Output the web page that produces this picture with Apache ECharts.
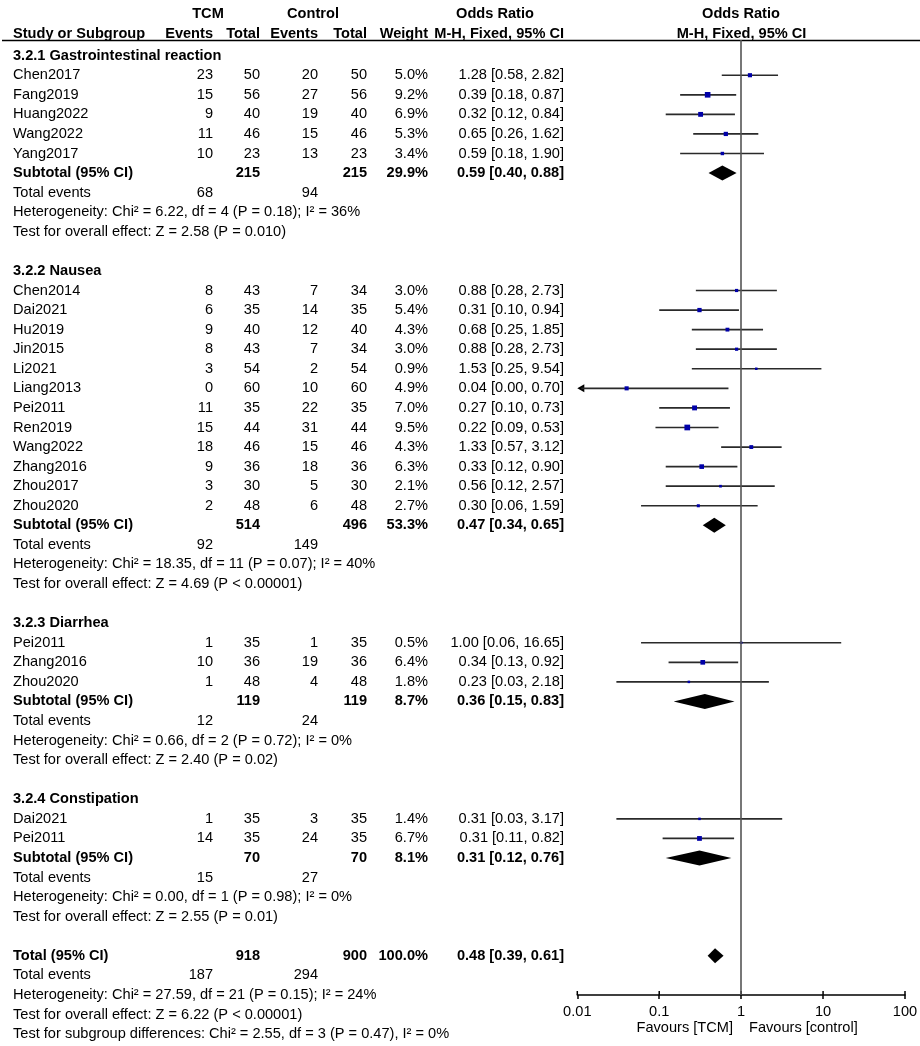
<!DOCTYPE html>
<html>
<head>
<meta charset="utf-8">
<script src="https://cdn.jsdelivr.net/npm/echarts@6/dist/echarts.min.js"></script>
<style>
html,body{margin:0;padding:0;background:#fff;}
#chart{width:920px;height:1046px;}
</style>
</head>
<body>
<div id="chart"></div>
<script>
// ---------- DATA ----------
const groupNames = ['3.2.1 Gastrointestinal reaction', '3.2.2 Nausea', '3.2.3 Diarrhea', '3.2.4 Constipation'];
// [study, TCM events, TCM total, Control events, Control total, weight %, OR, lower, upper]
const gastroStudies = [
  ['Chen2017', 23, 50, 20, 50, 5.0, 1.28, 0.58, 2.82],
  ['Fang2019', 15, 56, 27, 56, 9.2, 0.39, 0.18, 0.87],
  ['Huang2022', 9, 40, 19, 40, 6.9, 0.32, 0.12, 0.84],
  ['Wang2022', 11, 46, 15, 46, 5.3, 0.65, 0.26, 1.62],
  ['Yang2017', 10, 23, 13, 23, 3.4, 0.59, 0.18, 1.90]
];
const nauseaStudies = [
  ['Chen2014', 8, 43, 7, 34, 3.0, 0.88, 0.28, 2.73],
  ['Dai2021', 6, 35, 14, 35, 5.4, 0.31, 0.10, 0.94],
  ['Hu2019', 9, 40, 12, 40, 4.3, 0.68, 0.25, 1.85],
  ['Jin2015', 8, 43, 7, 34, 3.0, 0.88, 0.28, 2.73],
  ['Li2021', 3, 54, 2, 54, 0.9, 1.53, 0.25, 9.54],
  ['Liang2013', 0, 60, 10, 60, 4.9, 0.04, 0.00, 0.70],
  ['Pei2011', 11, 35, 22, 35, 7.0, 0.27, 0.10, 0.73],
  ['Ren2019', 15, 44, 31, 44, 9.5, 0.22, 0.09, 0.53],
  ['Wang2022', 18, 46, 15, 46, 4.3, 1.33, 0.57, 3.12],
  ['Zhang2016', 9, 36, 18, 36, 6.3, 0.33, 0.12, 0.90],
  ['Zhou2017', 3, 30, 5, 30, 2.1, 0.56, 0.12, 2.57],
  ['Zhou2020', 2, 48, 6, 48, 2.7, 0.30, 0.06, 1.59]
];
const diarrheaStudies = [
  ['Pei2011', 1, 35, 1, 35, 0.5, 1.00, 0.06, 16.65],
  ['Zhang2016', 10, 36, 19, 36, 6.4, 0.34, 0.13, 0.92],
  ['Zhou2020', 1, 48, 4, 48, 1.8, 0.23, 0.03, 2.18]
];
const constipationStudies = [
  ['Dai2021', 1, 35, 3, 35, 1.4, 0.31, 0.03, 3.17],
  ['Pei2011', 14, 35, 24, 35, 6.7, 0.31, 0.11, 0.82]
];
// [TCM total, Control total, weight %, OR, lower, upper]
const subtotals = [
  [215, 215, 29.9, 0.59, 0.40, 0.88],
  [514, 496, 53.3, 0.47, 0.34, 0.65],
  [119, 119, 8.7, 0.36, 0.15, 0.83],
  [70, 70, 8.1, 0.31, 0.12, 0.76]
];
const subtotalEvents = [[68, 94], [92, 149], [12, 24], [15, 27]];
const heterogeneityTexts = [
  'Heterogeneity: Chi² = 6.22, df = 4 (P = 0.18); I² = 36%',
  'Heterogeneity: Chi² = 18.35, df = 11 (P = 0.07); I² = 40%',
  'Heterogeneity: Chi² = 0.66, df = 2 (P = 0.72); I² = 0%',
  'Heterogeneity: Chi² = 0.00, df = 1 (P = 0.98); I² = 0%'
];
const effectTexts = [
  'Test for overall effect: Z = 2.58 (P = 0.010)',
  'Test for overall effect: Z = 4.69 (P < 0.00001)',
  'Test for overall effect: Z = 2.40 (P = 0.02)',
  'Test for overall effect: Z = 2.55 (P = 0.01)'
];
const overallTotal = [918, 900, 100.0, 0.48, 0.39, 0.61];
const overallEvents = [187, 294];
const overallHeterogeneity = 'Heterogeneity: Chi² = 27.59, df = 21 (P = 0.15); I² = 24%';
const overallEffect = 'Test for overall effect: Z = 6.22 (P < 0.00001)';
const subgroupDifferences = 'Test for subgroup differences: Chi² = 2.55, df = 3 (P = 0.47), I² = 0%';
const xTickValues = [0.01, 0.1, 1, 10, 100];
const xTickLabels = ['0.01', '0.1', '1', '10', '100'];

// ---------- LAYOUT ----------
const FONT = 'Liberation Sans, Arial, Helvetica, sans-serif';
const FS = 14.6;
const Y_MIN = -0.8, Y_MAX = 48;
const colX = { label: 13, e1: 213, n1: 260, e2: 318, n2: 367, w: 428, or: 564 };
const fmtOR = (o, l, h) => o.toFixed(2) + ' [' + l.toFixed(2) + ', ' + h.toFixed(2) + ']';

const tableRows = [];
const studyPts = [];
const diamonds = [];
let r = 0;
[gastroStudies, nauseaStudies, diarrheaStudies, constipationStudies].forEach((studies, gi) => {
  tableRows.push({ row: r, cells: [{ x: colX.label, t: groupNames[gi], b: true, a: 'left' }] });
  r++;
  studies.forEach(s => {
    tableRows.push({ row: r, cells: [
      { x: colX.label, t: s[0], a: 'left' },
      { x: colX.e1, t: String(s[1]) }, { x: colX.n1, t: String(s[2]) },
      { x: colX.e2, t: String(s[3]) }, { x: colX.n2, t: String(s[4]) },
      { x: colX.w, t: s[5].toFixed(1) + '%' }, { x: colX.or, t: fmtOR(s[6], s[7], s[8]) }
    ] });
    studyPts.push([s[6], s[7], s[8], r, s[5]]);
    r++;
  });
  const st = subtotals[gi];
  tableRows.push({ row: r, cells: [
    { x: colX.label, t: 'Subtotal (95% CI)', a: 'left', b: true },
    { x: colX.n1, t: String(st[0]), b: true }, { x: colX.n2, t: String(st[1]), b: true },
    { x: colX.w, t: st[2].toFixed(1) + '%', b: true }, { x: colX.or, t: fmtOR(st[3], st[4], st[5]), b: true }
  ] });
  diamonds.push([st[3], st[4], st[5], r]);
  r++;
  tableRows.push({ row: r, cells: [
    { x: colX.label, t: 'Total events', a: 'left' },
    { x: colX.e1, t: String(subtotalEvents[gi][0]) }, { x: colX.e2, t: String(subtotalEvents[gi][1]) }
  ] });
  r++;
  tableRows.push({ row: r, cells: [{ x: colX.label, t: heterogeneityTexts[gi], a: 'left' }] }); r++;
  tableRows.push({ row: r, cells: [{ x: colX.label, t: effectTexts[gi], a: 'left' }] }); r++;
  r++; // blank
});
tableRows.push({ row: r, cells: [
  { x: colX.label, t: 'Total (95% CI)', a: 'left', b: true },
  { x: colX.n1, t: String(overallTotal[0]), b: true }, { x: colX.n2, t: String(overallTotal[1]), b: true },
  { x: colX.w, t: overallTotal[2].toFixed(1) + '%', b: true },
  { x: colX.or, t: fmtOR(overallTotal[3], overallTotal[4], overallTotal[5]), b: true }
] });
diamonds.push([overallTotal[3], overallTotal[4], overallTotal[5], r]);
r++;
tableRows.push({ row: r, cells: [
  { x: colX.label, t: 'Total events', a: 'left' },
  { x: colX.e1, t: String(overallEvents[0]) }, { x: colX.e2, t: String(overallEvents[1]) }
] });
r++;
tableRows.push({ row: r, cells: [{ x: colX.label, t: overallHeterogeneity, a: 'left' }] }); r++;
tableRows.push({ row: r, cells: [{ x: colX.label, t: overallEffect, a: 'left' }] }); r++;
tableRows.push({ row: r, cells: [{ x: colX.label, t: subgroupDifferences, a: 'left' }] }); r++;

function txt(x, y, t, align, bold) {
  return { type: 'text', x: x, y: y, silent: true, style: {
    text: t, x: 0, y: 0, fill: '#000', align: align || 'right', verticalAlign: 'middle',
    font: (bold ? 'bold ' : '') + FS + 'px ' + FONT } };
}

const chart = echarts.init(document.getElementById('chart'), null, { renderer: 'canvas' });

const option = {
  animation: false,
  backgroundColor: '#fff',
  grid: { left: 577.3, top: 40, width: 327.7, height: 955, containLabel: false, outerBoundsMode: 'none' },
  xAxis: {
    type: 'log', logBase: 10, min: 0.01, max: 100, position: 'bottom',
    axisLine: { show: true, onZero: false, lineStyle: { color: '#000', width: 1.5 } },
    axisTick: { show: true, length: 4, inside: false, lineStyle: { color: '#000', width: 1.5 } },
    axisLabel: { show: true, margin: 9, color: '#000', fontSize: FS, fontFamily: FONT,
      formatter: (v) => { const i = xTickValues.findIndex(t => Math.abs(Math.log10(t) - Math.log10(v)) < 1e-6); return i >= 0 ? xTickLabels[i] : ''; } },
    splitLine: { show: false }, minorTick: { show: false }
  },
  yAxis: { type: 'value', inverse: true, min: Y_MIN, max: Y_MAX, show: false },
  series: [
    { // table text
      type: 'custom', clip: false, silent: true,
      data: tableRows.map(t => [1, t.row]),
      encode: { x: 0, y: 1 },
      renderItem: (params, api) => {
        const y = api.coord([1, api.value(1)])[1];
        const row = tableRows[params.dataIndex];
        return { type: 'group', children: row.cells.map(c => txt(c.x, y, c.t, c.a, c.b)) };
      },
      markLine: { silent: true, symbol: 'none', label: { show: false },
        lineStyle: { color: '#555', width: 1.6, type: 'solid' },
        data: [{ xAxis: 1 }] }
    },
    { // upper half of axis ticks
      type: 'custom', clip: false, silent: true,
      data: xTickValues.map(v => [v, Y_MAX]), encode: { x: 0, y: 1 },
      renderItem: (params, api) => {
        const p = api.coord([api.value(0), api.value(1)]);
        return { type: 'line', shape: { x1: p[0], y1: p[1] - 4, x2: p[0], y2: p[1] },
          style: { stroke: '#000', lineWidth: 1.5 } };
      }
    },
    { // study CIs and squares
      type: 'custom', clip: false, silent: true,
      data: studyPts, encode: { x: 0, y: 3 },
      renderItem: (params, api) => {
        const o = api.value(0), lo = api.value(1), hi = api.value(2), row = api.value(3), w = api.value(4);
        const loC = Math.max(lo, 0.01), hiC = Math.min(hi, 100);
        const p1 = api.coord([loC, row]), p2 = api.coord([hiC, row]), po = api.coord([o, row]);
        const y = p1[1];
        const s = Math.max(2.5, 1.85 * Math.sqrt(w));
        const ch = [];
        let x1 = p1[0];
        if (lo < 0.01) {
          ch.push({ type: 'polygon', shape: { points: [[p1[0], y], [p1[0] + 7, y - 4], [p1[0] + 7, y + 4]] },
            style: { fill: '#000' } });
          x1 = p1[0] + 4;
        }
        ch.push({ type: 'line', shape: { x1: x1, y1: y, x2: p2[0], y2: y },
          style: { stroke: '#2a2a2a', lineWidth: 1.7 } });
        ch.push({ type: 'rect', shape: { x: po[0] - s / 2, y: y - s / 2, width: s, height: s },
          style: { fill: '#0000A8' } });
        return { type: 'group', children: ch };
      }
    },
    { // diamonds
      type: 'custom', clip: false, silent: true,
      data: diamonds, encode: { x: 0, y: 3 },
      renderItem: (params, api) => {
        const o = api.value(0), lo = api.value(1), hi = api.value(2), row = api.value(3);
        const pl = api.coord([lo, row]), ph = api.coord([hi, row]), po = api.coord([o, row]);
        const y = po[1], hh = 7.5;
        return { type: 'polygon', shape: { points: [[pl[0], y], [po[0], y - hh], [ph[0], y], [po[0], y + hh]] },
          style: { fill: '#000' } };
      }
    }
  ],
  graphic: [
    { type: 'line', silent: true, shape: { x1: 2, y1: 40.5, x2: 920, y2: 40.5 }, style: { stroke: '#000', lineWidth: 1.5 } },
    txt(208, 14, 'TCM', 'center', true),
    txt(313, 14, 'Control', 'center', true),
    txt(495, 14, 'Odds Ratio', 'center', true),
    txt(741, 14, 'Odds Ratio', 'center', true),
    txt(13, 33.5, 'Study or Subgroup', 'left', true),
    txt(213, 33.5, 'Events', 'right', true),
    txt(260, 33.5, 'Total', 'right', true),
    txt(318, 33.5, 'Events', 'right', true),
    txt(367, 33.5, 'Total', 'right', true),
    txt(428, 33.5, 'Weight', 'right', true),
    txt(564, 33.5, 'M-H, Fixed, 95% CI', 'right', true),
    txt(741.5, 33.5, 'M-H, Fixed, 95% CI', 'center', true),
    txt(733, 1028, 'Favours [TCM]', 'right', false),
    txt(749, 1028, 'Favours [control]', 'left', false)
  ]
};
chart.setOption(option);
</script>
</body>
</html>
